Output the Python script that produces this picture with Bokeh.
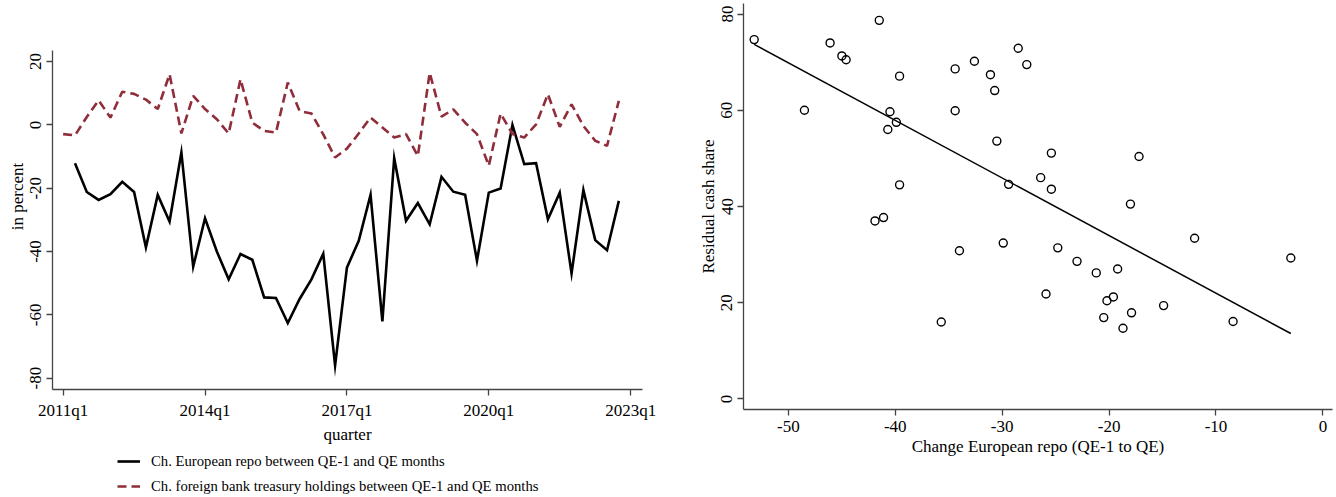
from bokeh.plotting import figure
from bokeh.layouts import row, column
from bokeh.models import Range1d, FixedTicker, Legend, LegendItem
from bokeh.embed import file_html
from bokeh.resources import INLINE

# ---------------- data: left panel (quarterly, index 0 = 2011q1) ----------------
quarter_tick_pos = [0, 12, 24, 36, 48]
quarter_tick_labels = ["2011q1", "2014q1", "2017q1", "2020q1", "2023q1"]

repo_q = list(range(1, 48))
repo_change = [-12.1, -21.2, -23.7, -21.9, -18.0, -21.2, -38.7, -22.1, -30.5, -8.7,
               -44.8, -29.5, -40.0, -48.8, -40.8, -42.6, -54.5, -54.7, -62.6, -55.0,
               -48.8, -40.7, -76.0, -45.1, -36.6, -22.1, -62.1, -10.5, -30.3, -24.7,
               -31.4, -16.4, -21.1, -22.1, -42.9, -21.4, -20.1, 0.0, -12.4, -12.1,
               -29.8, -21.4, -46.9, -20.6, -36.4, -39.6, -24.0]

treas_q = list(range(0, 48))
treas_change = [-2.9, -3.3, 2.5, 7.8, 2.3, 10.5, 9.8, 8.0, 5.0, 16.0,
                -2.7, 9.2, 5.0, 1.8, -2.7, 14.4, 0.7, -1.9, -2.4, 13.4,
                4.4, 3.6, -3.0, -10.3, -7.5, -2.7, 2.3, -0.8, -4.0, -2.9,
                -9.8, 16.5, 2.6, 4.9, 0.7, -2.9, -12.9, 3.6, -2.9, -4.0,
                0.2, 9.7, -0.6, 6.5, -0.3, -5.0, -6.6, 7.6]

left_yticks = [20, 0, -20, -40, -60, -80]
legend_labels = ["Ch. European repo between QE-1 and QE months",
                 "Ch. foreign bank treasury holdings between QE-1 and QE months"]

# ---------------- data: right panel (scatter + fitted line) ----------------
repo_x = [-53.2, -48.5, -46.1, -45.0, -44.6, -41.5, -39.6, -40.5, -39.9, -40.7,
          -39.6, -41.9, -41.1, -34.4, -32.6, -34.4, -31.1, -30.7, -30.5, -29.4,
          -28.5, -27.7, -29.9, -34.0, -35.7, -25.4, -17.2, -26.4, -25.4, -18.0,
          -12.0, -24.8, -23.0, -21.2, -19.2, -25.9, -19.6, -20.2, -14.9, -17.9,
          -20.5, -18.7, -8.4, -3.0]
cash_share = [74.7, 60.0, 74.0, 71.3, 70.5, 78.7, 67.1, 59.7, 57.5, 56.0,
              44.5, 37.0, 37.7, 68.6, 70.2, 59.9, 67.4, 64.1, 53.6, 44.6,
              72.9, 69.5, 32.4, 30.8, 16.0, 51.1, 50.4, 46.0, 43.6, 40.5,
              33.4, 31.4, 28.6, 26.2, 27.0, 21.8, 21.2, 20.4, 19.4, 17.9,
              16.9, 14.7, 16.1, 29.3]
fit_x = [-53.2, -3.0]
fit_y = [73.7, 13.6]

right_xticks = [-50, -40, -30, -20, -10, 0]
right_yticks = [0, 20, 40, 60, 80]

FONT = "Liberation Serif"
AX = "#444444"
MAROON = "#8F2D3A"
REPO_STYLE = dict(line_color="black", line_width=2.6)
TREAS_STYLE = dict(line_color=MAROON, line_width=2.6, line_dash="9 5")


def style_axes(p):
    for ax in (p.xaxis[0], p.yaxis[0]):
        ax.axis_line_color = AX
        ax.axis_line_width = 1.3
        ax.major_tick_line_color = AX
        ax.major_tick_line_width = 1.3
        ax.major_tick_out = 6
        ax.major_tick_in = 0
        ax.minor_tick_line_color = None
        ax.major_label_text_font = FONT
        ax.major_label_text_font_size = "17px"
        ax.major_label_text_color = "black"
        ax.axis_label_text_font = FONT
        ax.axis_label_text_font_size = "17px"
        ax.axis_label_text_font_style = "normal"
        ax.axis_label_text_color = "black"
    p.yaxis[0].major_label_orientation = "vertical"
    p.xgrid.visible = False
    p.ygrid.visible = False
    p.outline_line_color = None
    p.background_fill_color = "white"
    p.border_fill_color = "white"


def set_ticks(ax, ticks, labels=None):
    ax.ticker = FixedTicker(ticks=ticks)
    if labels is None:
        labels = [str(t) for t in ticks]  # plain hyphen-minus, as in the original
    ax.major_label_overrides = {t: lab for t, lab in zip(ticks, labels)}


# ---------------- left panel ----------------
p1 = figure(frame_width=590, frame_height=386,
            min_border_left=52, min_border_right=28, min_border_top=3, min_border_bottom=62,
            x_range=Range1d(-0.9, 49.0), y_range=Range1d(-83.6, 38.36),
            output_backend="svg", toolbar_location=None)
style_axes(p1)
set_ticks(p1.xaxis[0], quarter_tick_pos, quarter_tick_labels)
set_ticks(p1.yaxis[0], left_yticks)
p1.yaxis[0].bounds = (-83.6, 23.5)
p1.xaxis[0].axis_label = "quarter"
p1.yaxis[0].axis_label = "in percent"
p1.xaxis[0].axis_label_standoff = 2
p1.yaxis[0].axis_label_standoff = 1

p1.line(repo_q, repo_change, line_join="miter", **REPO_STYLE)
p1.line(treas_q, treas_change, **TREAS_STYLE)

# ---------------- legend strip under the left panel ----------------
# the same two series are drawn here (far outside this strip's view) only to feed the legend
pleg = figure(frame_width=590, frame_height=46,
              min_border_left=52, min_border_right=28, min_border_top=0, min_border_bottom=0,
              x_axis_type=None, y_axis_type=None,
              x_range=Range1d(1000, 1001), y_range=Range1d(1000, 1001),
              output_backend="svg", toolbar_location=None)
pleg.xgrid.visible = False
pleg.ygrid.visible = False
pleg.outline_line_color = None
pleg.background_fill_color = "white"
pleg.border_fill_color = "white"
lr_repo = pleg.line(repo_q, repo_change, **REPO_STYLE)
lr_treas = pleg.line(treas_q, treas_change, **TREAS_STYLE)
legend = Legend(items=[
    LegendItem(label=legend_labels[0], renderers=[lr_repo]),
    LegendItem(label=legend_labels[1], renderers=[lr_treas]),
], location=(65, 1), orientation="vertical",
    border_line_color=None, background_fill_alpha=0,
    padding=0, margin=0, spacing=5,
    glyph_width=23, glyph_height=20, label_height=20, label_standoff=11,
    label_text_font=FONT, label_text_font_size="14.7px", label_text_color="black")
pleg.add_layout(legend, "center")

# ---------------- right panel ----------------
p2 = figure(frame_width=589, frame_height=406,
            min_border_left=73, min_border_right=4, min_border_top=3, min_border_bottom=88,
            x_range=Range1d(-54.2, 0.9), y_range=Range1d(-2.2, 82.2),
            output_backend="svg", toolbar_location=None)
style_axes(p2)
set_ticks(p2.xaxis[0], right_xticks)
set_ticks(p2.yaxis[0], right_yticks)
p2.xaxis[0].axis_label = "Change European repo (QE-1 to QE)"
p2.yaxis[0].axis_label = "Residual cash share"
p2.xaxis[0].axis_label_standoff = 2
p2.yaxis[0].axis_label_standoff = 1

p2.scatter(repo_x, cash_share, marker="circle", size=8, fill_color=None,
           line_color="black", line_width=1.4)
p2.line(fit_x, fit_y, line_color="black", line_width=1.5)

layout = row(column(p1, pleg), column(p2))
open("out.html", "w").write(file_html(layout, INLINE))
